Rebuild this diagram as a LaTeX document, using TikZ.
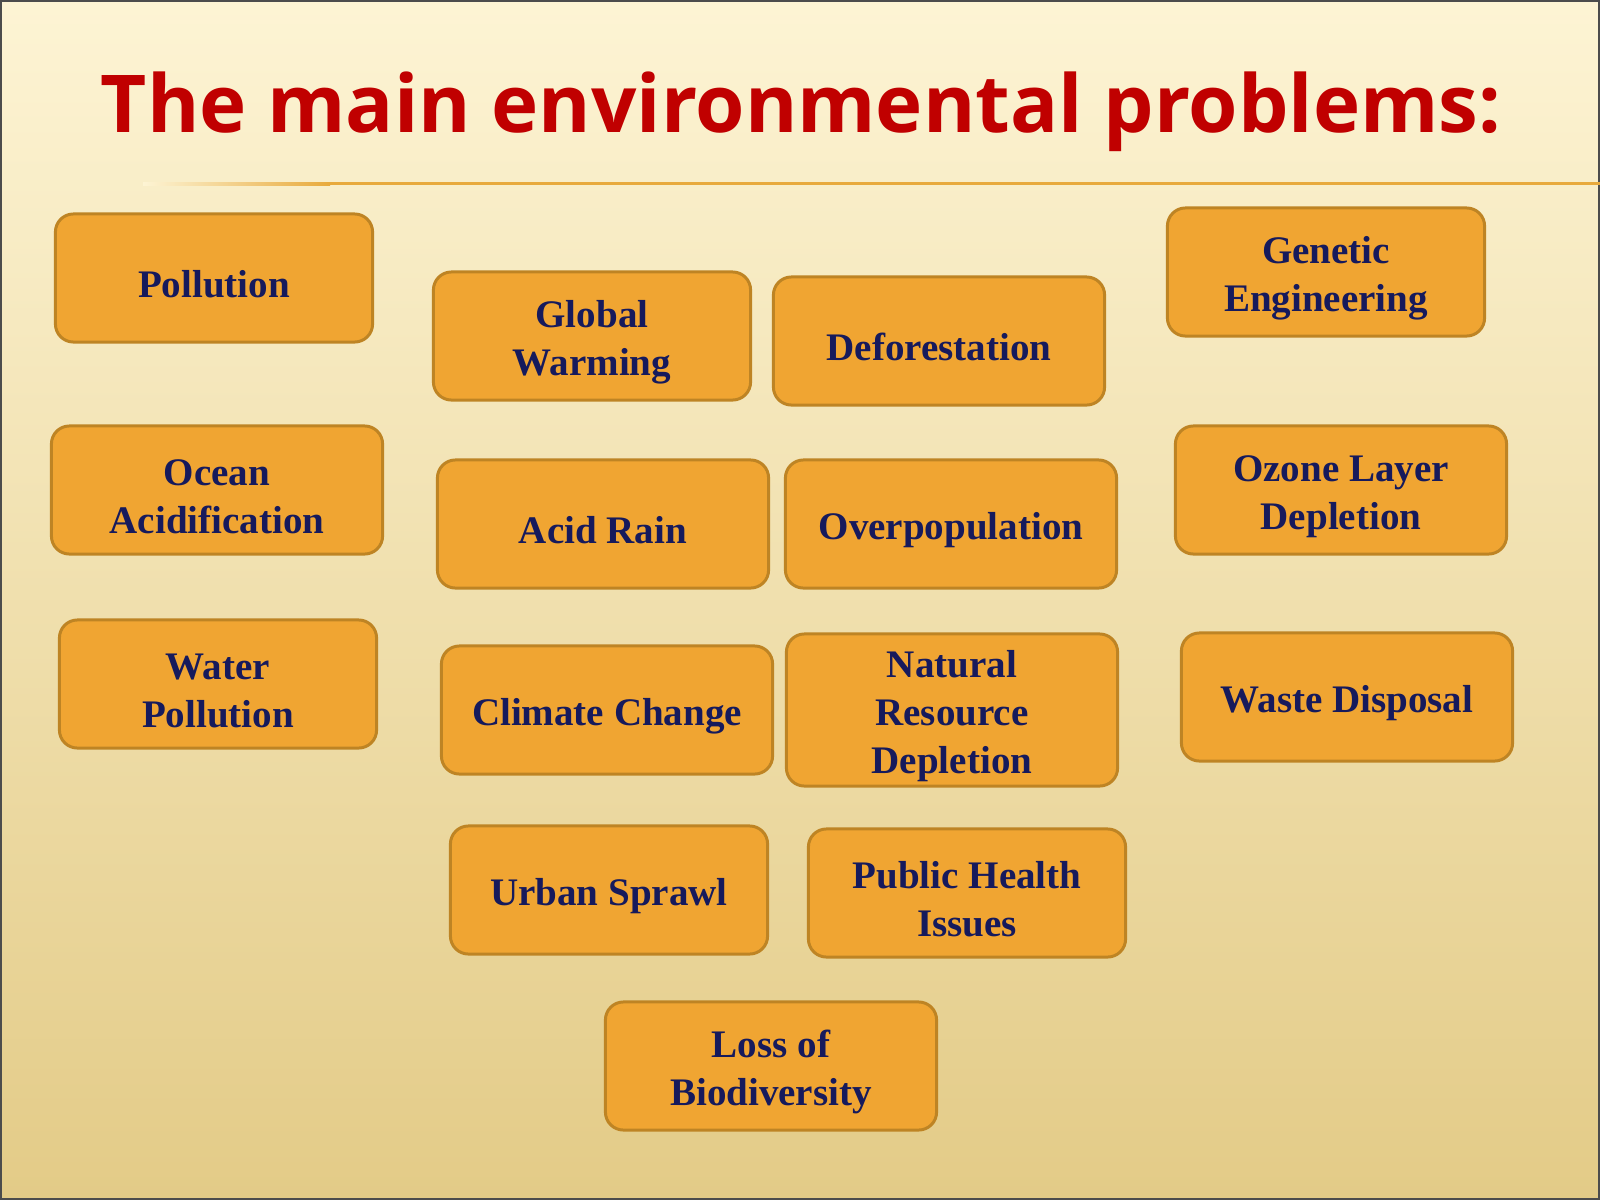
\documentclass[tikz,border=0pt]{standalone}
\usepackage{fontspec}
\setmainfont{Liberation Serif}
\newfontfamily\titlefont{Open Sans}

\definecolor{bgtop}{RGB}{253,244,212}
\definecolor{bgmid}{RGB}{248,231,182}
\definecolor{bgbot}{RGB}{227,203,135}
\definecolor{boxfill}{RGB}{240,165,50}
\definecolor{boxline}{RGB}{190,132,36}
\definecolor{labelblue}{RGB}{22,26,92}
\definecolor{titlered}{RGB}{192,0,0}
\definecolor{rulegold}{RGB}{232,170,60}

% strut that lowers the label a little inside its box
\newcommand\lift{\rule{0pt}{11pt}}

\tikzset{
  issue/.style={draw=boxline, fill=boxfill, line width=0.85pt, rounded corners=0.18cm,
    minimum width=3.17cm, minimum height=1.28cm, inner sep=0pt, align=center,
    text=labelblue, font=\fontsize{11.1pt}{13.66pt}\selectfont\bfseries},
  wide/.style={minimum width=3.31cm},
}

\begin{document}
\begin{tikzpicture}[x=0.01cm, y=-0.01cm]

% background and frame
\useasboundingbox (0,0) rectangle (1600,1200);
\shade[top color=bgtop, middle color=bgmid, bottom color=bgbot] (0,0) rectangle (1600,1200);
\draw[gray!60!black, line width=0.6pt] (1,1) rectangle (1599,1199);

% figure title
\node[anchor=base, text=titlered, font=\titlefont\bfseries\fontsize{22.7pt}{28pt}\selectfont] at (801, 132) (title) {The main environmental problems:};

% rule under the title
\shade[left color=bgtop, right color=rulegold] (143,182) rectangle (330,185);
\fill[rulegold] (330,182) rectangle (1600,185);

% left column
\node[issue] at (214, 278) (pollution) {\lift Pollution};
\node[issue, wide] at (217, 490) (ocean) {\lift Ocean\\Acidification};
\node[issue] at (218, 684) (water) {\lift Water\\Pollution};

% middle columns
\node[issue] at (592, 336) (warming) {\lift Global\\Warming};
\node[issue, wide] at (939, 341) (deforest) {\lift Deforestation};
\node[issue, wide] at (603, 524) (acidrain) {\lift Acid Rain};
\node[issue, wide] at (951, 524) (overpop) {\lift Overpopulation};
\node[issue, wide] at (607, 710) (climate) {\lift Climate Change};
\node[issue, wide, minimum height=1.52cm] at (952, 710) (resource) {\lift Natural\\Resource\\Depletion};
\node[issue] at (609, 890) (sprawl) {\lift Urban Sprawl};
\node[issue] at (967, 893) (health) {\lift Public Health\\Issues};
\node[issue, wide] at (771, 1066) (biodiv) {\lift Loss of\\Biodiversity};

% right column
\node[issue] at (1326, 272) (genetic) {\lift Genetic\\Engineering};
\node[issue, wide] at (1341, 490) (ozone) {\lift Ozone Layer\\Depletion};
\node[issue, wide] at (1347, 697) (waste) {\lift Waste Disposal};

\end{tikzpicture}
\end{document}
